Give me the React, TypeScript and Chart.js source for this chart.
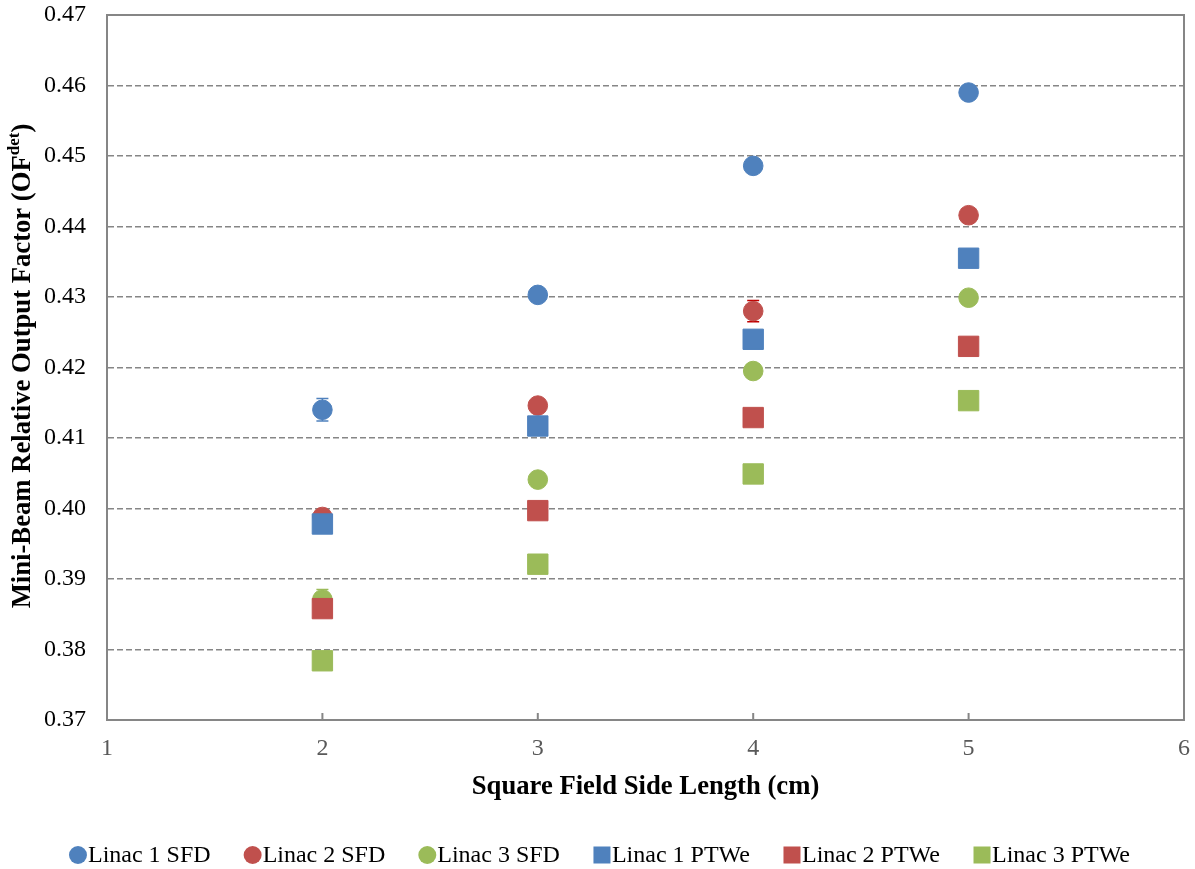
import React, { useEffect, useRef } from 'react';
import { Chart, registerables } from 'chart.js';

Chart.register(...registerables);

// ---------- data ----------
const xValues = [2, 3, 4, 5];
const seriesLabels = ['Linac 1 SFD', 'Linac 2 SFD', 'Linac 3 SFD', 'Linac 1 PTWe', 'Linac 2 PTWe', 'Linac 3 PTWe'];
const linac1SFD = [0.4140, 0.4303, 0.4486, 0.4590];
const linac2SFD = [0.3988, 0.4146, 0.4280, 0.4416];
const linac3SFD = [0.3871, 0.4041, 0.4195, 0.4299];
const linac1PTWe = [0.3978, 0.4117, 0.4240, 0.4355];
const linac2PTWe = [0.3858, 0.3997, 0.4129, 0.4230];
const linac3PTWe = [0.3784, 0.3921, 0.4049, 0.4153];
const linac1SFDErr = [0.0016, 0.0006, 0.0006, 0.0006];
const linac2SFDErr = [0.0006, 0.0006, 0.0015, 0.0006];
const linac3SFDErr = [0.0014, 0.0009, 0.0010, 0.0006];
const linac1PTWeErr = [0.0006, 0.0006, 0.0006, 0.0006];
const linac2PTWeErr = [0.0006, 0.0006, 0.0008, 0.0006];
const linac3PTWeErr = [0.0006, 0.0006, 0.0006, 0.0006];
const yTicks = [0.37, 0.38, 0.39, 0.40, 0.41, 0.42, 0.43, 0.44, 0.45, 0.46, 0.47];
const xTicks = [1, 2, 3, 4, 5, 6];

const BLUE = '#4F81BD';
const RED = '#C0504D';
const GREEN = '#9BBB59';
const FONT = "'Liberation Serif', 'Times New Roman', serif";

const seriesValues = [linac1SFD, linac2SFD, linac3SFD, linac1PTWe, linac2PTWe, linac3PTWe];
const seriesErrors = [linac1SFDErr, linac2SFDErr, linac3SFDErr, linac1PTWeErr, linac2PTWeErr, linac3PTWeErr];
const seriesColors = [BLUE, RED, GREEN, BLUE, RED, GREEN];
const errorColors = [BLUE, '#C00000', GREEN, BLUE, '#C00000', GREEN];
const seriesShapes = ['circle', 'circle', 'circle', 'rect', 'rect', 'rect'];

const zeroPadding = () => ({ left: 0, top: 0, right: 0, bottom: 0 });

const errorBarPlugin = {
  id: 'errorBars',
  beforeDatasetsDraw(chart: any) {
    const { ctx, scales } = chart;
    const y = scales.y;
    chart.data.datasets.forEach((ds: any, i: number) => {
      const meta = chart.getDatasetMeta(i);
      ctx.save();
      ctx.strokeStyle = ds.errorColor;
      ctx.lineWidth = 1.5;
      meta.data.forEach((pt: any, j: number) => {
        const v = ds.data[j].y;
        const e = ds.errors[j];
        const yTop = y.getPixelForValue(v + e);
        const yBot = y.getPixelForValue(v - e);
        const px = pt.x;
        ctx.beginPath();
        ctx.moveTo(px, yTop);
        ctx.lineTo(px, yBot);
        ctx.moveTo(px - 6, yTop);
        ctx.lineTo(px + 6, yTop);
        ctx.moveTo(px - 6, yBot);
        ctx.lineTo(px + 6, yBot);
        ctx.stroke();
      });
      ctx.restore();
    });
  },
};

const framePlugin = {
  id: 'frame',
  beforeDatasetsDraw(chart: any) {
    const { ctx, chartArea: a, scales } = chart;
    ctx.save();
    ctx.strokeStyle = '#868686';
    ctx.lineWidth = 2;
    ctx.beginPath();
    ctx.moveTo(a.left, a.top);
    ctx.lineTo(a.right, a.top);
    ctx.lineTo(a.right, a.bottom);
    ctx.stroke();
    // inside tick marks on x axis
    ctx.beginPath();
    xTicks.forEach((t) => {
      const px = scales.x.getPixelForValue(t);
      ctx.moveTo(px, a.bottom);
      ctx.lineTo(px, a.bottom - 7);
    });
    ctx.stroke();
    ctx.restore();
  },
};

const yTitlePlugin = {
  id: 'yTitle',
  afterDraw(chart: any) {
    const { ctx } = chart;
    const main = 'Mini-Beam Relative Output Factor (OF';
    const sup = 'det';
    const close = ')';
    ctx.save();
    ctx.translate(22, 366);
    ctx.rotate(-Math.PI / 2);
    ctx.fillStyle = '#000';
    ctx.textBaseline = 'middle';
    ctx.textAlign = 'left';
    ctx.font = `bold 26.67px ${FONT}`;
    const w1 = ctx.measureText(main).width;
    const w3 = ctx.measureText(close).width;
    ctx.font = `bold 17px ${FONT}`;
    const w2 = ctx.measureText(sup).width;
    const total = w1 + w2 + w3;
    let x = -total / 2;
    ctx.font = `bold 26.67px ${FONT}`;
    ctx.fillText(main, x, 1);
    x += w1;
    ctx.font = `bold 17px ${FONT}`;
    ctx.fillText(sup, x, -7);
    x += w2;
    ctx.font = `bold 26.67px ${FONT}`;
    ctx.fillText(close, x, 1);
    ctx.restore();
  },
};

const legendPlugin = {
  id: 'customLegend',
  afterDraw(chart: any) {
    const { ctx } = chart;
    const ds = chart.data.datasets;
    ctx.save();
    ctx.font = `24px ${FONT}`;
    const gap = 33;
    const marker = 19;
    const widths = ds.map((d: any) => marker + ctx.measureText(d.label).width);
    const total = widths.reduce((s: number, w: number) => s + w, 0) + gap * (ds.length - 1);
    let x = chart.width / 2 - total / 2 + 2;
    const cy = 855;
    ds.forEach((d: any, i: number) => {
      ctx.fillStyle = d.backgroundColor;
      if (d.pointStyle === 'circle') {
        ctx.beginPath();
        ctx.arc(x + 9, cy, 9, 0, Math.PI * 2);
        ctx.fill();
      } else {
        ctx.fillRect(x + 0.5, cy - 8.5, 17, 17);
      }
      ctx.fillStyle = '#000';
      ctx.textBaseline = 'middle';
      ctx.textAlign = 'left';
      ctx.fillText(d.label, x + marker, cy + 1);
      x += widths[i] + gap;
    });
    ctx.restore();
  },
};

export default function App() {
  const canvasRef = useRef<HTMLCanvasElement>(null);

  useEffect(() => {
    document.body.style.margin = '0';
    const canvas = canvasRef.current;
    if (!canvas) return;
    const datasets = seriesLabels.map((label, i) => ({
      label,
      data: xValues.map((x, j) => ({ x, y: seriesValues[i][j] })),
      errors: seriesErrors[i],
      errorColor: errorColors[i],
      backgroundColor: seriesColors[i],
      borderColor: seriesColors[i],
      borderWidth: 1,
      pointStyle: seriesShapes[i],
      pointRadius: seriesShapes[i] === 'circle' ? 9.8 : 14.4,
      showLine: false,
      order: seriesLabels.length - i,
    }));
    const chart = new Chart(canvas, {
      type: 'scatter',
      data: { datasets } as any,
      options: {
        responsive: false,
        animation: false,
        devicePixelRatio: 1,
        layout: { autoPadding: false, padding: { top: 15, right: 11, left: 0, bottom: 0 } },
        plugins: {
          legend: { display: false },
          tooltip: { enabled: false },
        },
        scales: {
          x: {
            type: 'linear',
            min: 1,
            max: 6,
            afterBuildTicks: (s: any) => {
              s.ticks = xTicks.map((v) => ({ value: v }));
            },
            afterFit: (s: any) => {
              s.height = 149;
              s.paddingLeft = 0;
              s.paddingRight = 0;
              s.getPadding = zeroPadding;
            },
            grid: { display: false, drawTicks: false },
            border: { display: true, color: '#868686', width: 2 },
            ticks: {
              color: '#595959',
              padding: 14,
              font: { family: FONT, size: 24 },
              callback: (v: any) => String(v),
            },
            title: {
              display: true,
              text: 'Square Field Side Length (cm)',
              color: '#000',
              font: { family: FONT, size: 26.67, weight: 'bold' },
              padding: { top: 0, bottom: 66 },
            },
          },
          y: {
            type: 'linear',
            min: 0.37,
            max: 0.47,
            afterBuildTicks: (s: any) => {
              s.ticks = yTicks.map((v) => ({ value: v }));
            },
            afterFit: (s: any) => {
              s.width = 107;
              s.paddingTop = 0;
              s.paddingBottom = 0;
              s.getPadding = zeroPadding;
            },
            grid: { color: '#868686', lineWidth: 1.5, drawTicks: false },
            border: { display: true, color: '#868686', width: 2, dash: [6, 3] },
            ticks: {
              color: '#000',
              padding: 21,
              font: { family: FONT, size: 24 },
              callback: (v: any) => Number(v).toFixed(2),
            },
          },
        },
      } as any,
      plugins: [errorBarPlugin, framePlugin, yTitlePlugin, legendPlugin],
    });
    return () => chart.destroy();
  }, []);

  return (
    <canvas
      ref={canvasRef}
      width={1195}
      height={869}
      style={{ display: 'block', width: 1195, height: 869 }}
    />
  );
}
